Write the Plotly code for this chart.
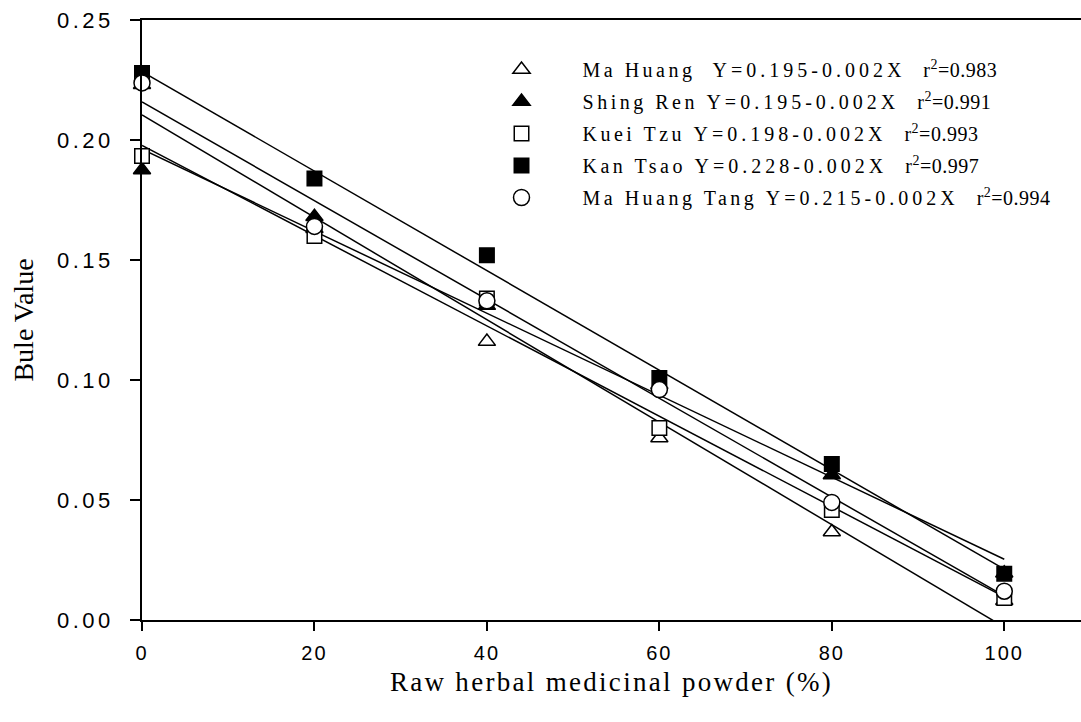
import numpy as np
import plotly.graph_objects as go

# ---------------- data ----------------
x_percent = [0, 20, 40, 60, 80, 100]

series_names = ["Ma Huang", "Shing Ren", "Kuei Tzu", "Kan Tsao", "Ma Huang Tang"]

ma_huang      = [0.223, 0.163, 0.116, 0.0758, 0.0367, 0.008]
shing_ren     = [0.1875, 0.168, 0.131, 0.098, 0.0604, 0.0195]
kuei_tzu      = [0.1933, 0.160, 0.134, 0.080, 0.0458, 0.0092]
kan_tsao      = [0.2279, 0.184, 0.152, 0.1008, 0.065, 0.0193]
ma_huang_tang = [0.2238, 0.164, 0.133, 0.096, 0.049, 0.012]

equations = ["Y=0.195-0.002X", "Y=0.195-0.002X", "Y=0.198-0.002X",
             "Y=0.228-0.002X", "Y=0.215-0.002X"]
r_squared = ["0.983", "0.991", "0.993", "0.997", "0.994"]
name_gaps = [2, 1, 1, 1, 1]

x_ticks = [0, 20, 40, 60, 80, 100]
y_ticks = [0.00, 0.05, 0.10, 0.15, 0.20, 0.25]

x_title = "Raw herbal medicinal powder (%)"
y_title = "Bule Value"


def spaced(text, px):
    return '<span style="letter-spacing:%spx">%s</span>' % (px, text)


legend_labels = [
    spaced(n + "&nbsp;" * g, 3.5) + spaced(eq + "&nbsp;&nbsp;", 4)
    + spaced("r<sup>2</sup>=" + r, 0.5)
    for n, g, eq, r in zip(series_names, name_gaps, equations, r_squared)
]

# ---------------- styles ----------------
all_series = [ma_huang, shing_ren, kuei_tzu, kan_tsao, ma_huang_tang]
symbols = ["triangle-up", "triangle-up", "square", "square", "circle"]
fills = ["white", "black", "white", "black", "white"]
sizes = [15, 15, 14.5, 14.5, 16]
serif = "Liberation Serif, Times New Roman, serif"
sans = "Liberation Sans, Arial, sans-serif"

fig = go.Figure()

# regression lines (least-squares fit of each series)
xfit = np.array([min(x_percent), max(x_percent)], dtype=float)
for vals in all_series:
    slope, intercept = np.polyfit(np.array(x_percent, float), np.array(vals, float), 1)
    fig.add_trace(go.Scatter(
        x=xfit, y=intercept + slope * xfit, mode="lines",
        line=dict(color="black", width=1.5), showlegend=False, hoverinfo="skip"))

# data markers
for i, (name, vals) in enumerate(zip(series_names, all_series)):
    fig.add_trace(go.Scatter(
        x=x_percent, y=vals, mode="markers", name=legend_labels[i],
        legendgroup=name, cliponaxis=False,
        marker=dict(symbol=symbols[i], size=sizes[i], color=fills[i],
                    line=dict(color="black", width=1.5))))

fig.update_layout(
    width=1081, height=722,
    margin=dict(l=142, r=0, t=20, b=102),
    paper_bgcolor="white", plot_bgcolor="white",
    showlegend=True,
    legend=dict(x=0.3392, y=0.950, xanchor="left", yanchor="top",
                bgcolor="rgba(0,0,0,0)", borderwidth=0,
                font=dict(family=serif, size=20, color="black"),
                traceorder="grouped", tracegroupgap=3, itemwidth=112),
    xaxis=dict(range=[0, 108.9], tickmode="array", tickvals=x_ticks,
               ticktext=[spaced(str(v), 2) for v in x_ticks],
               showline=True, linecolor="black", linewidth=1.5, mirror=True,
               ticks="outside", ticklen=9, tickwidth=1.5, tickcolor="black",
               showgrid=False, zeroline=False, ticklabelstandoff=5,
               tickfont=dict(family=sans, size=20, color="black"),
               title=dict(text=spaced(x_title, 2.3), standoff=9,
                          font=dict(family=serif, size=27, color="black"))),
    yaxis=dict(range=[0, 0.25], tickmode="array", tickvals=y_ticks,
               ticktext=[spaced("%.2f" % v, 3.5) for v in y_ticks],
               showline=True, linecolor="black", linewidth=1.5, mirror=False,
               ticks="outside", ticklen=10, tickwidth=1.5, tickcolor="black",
               showgrid=False, zeroline=False, ticklabelstandoff=12,
               tickfont=dict(family=sans, size=22, color="black"),
               title=dict(text=y_title, standoff=15,
                          font=dict(family=serif, size=28, color="black"))),
)

fig.write_html("out.html")
